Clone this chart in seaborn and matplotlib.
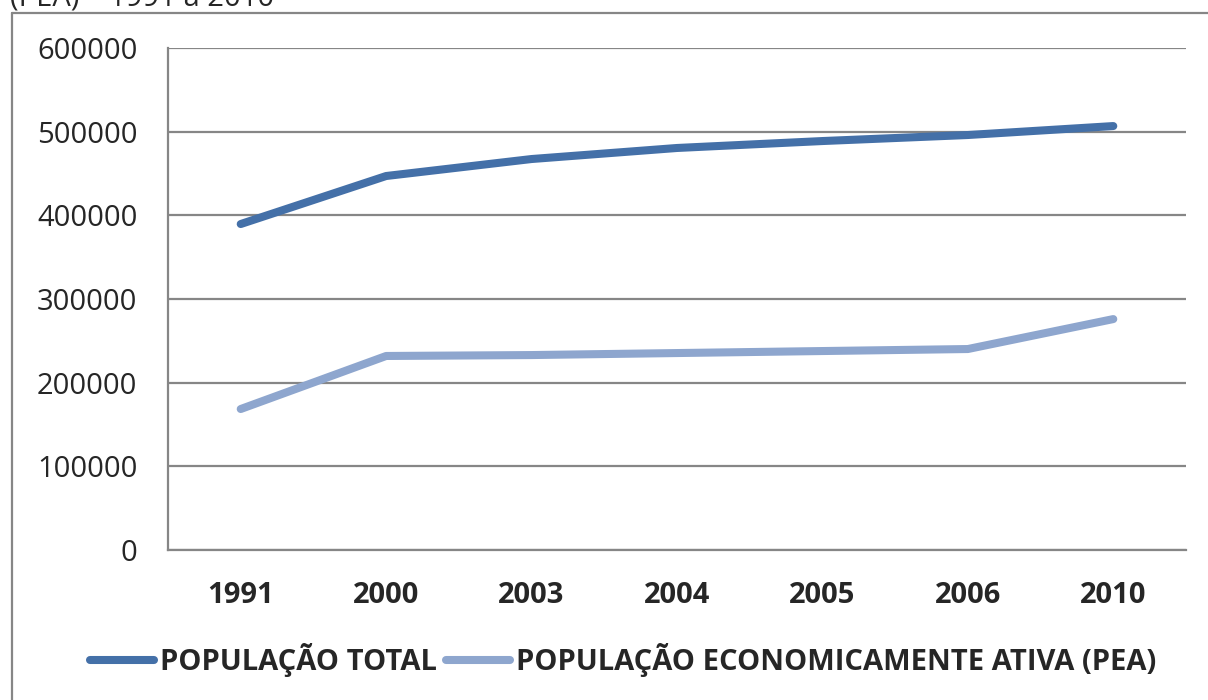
import numpy as np
import pandas as pd
from matplotlib import pyplot as plt
from matplotlib.lines import Line2D
from matplotlib.ticker import FixedLocator, FuncFormatter
import seaborn as sns

years = ["1991", "2000", "2003", "2004", "2005", "2006", "2010"]
pop_total = [389600, 447000, 467300, 480500, 488800, 496000, 506700]
pop_pea = [168500, 231900, 233000, 235400, 237800, 240200, 276000]
series_names = ["POPULAÇÃO TOTAL", "POPULAÇÃO ECONOMICAMENTE ATIVA (PEA)"]
y_ticks = [0, 100000, 200000, 300000, 400000, 500000, 600000]

colors = ["#4470A8", "#8EA6CE"]
grid_color = "#868686"

df = pd.DataFrame({
    "ano": years * 2,
    "valor": pop_total + pop_pea,
    "serie": [series_names[0]] * len(years) + [series_names[1]] * len(years),
})

sns.set_style("white")
plt.rcParams['font.family'] = ['Open Sans', 'DejaVu Sans']

fig = plt.figure(figsize=(12.08, 7.0), dpi=100)
ax = fig.add_axes([168 / 1208, 1 - 550 / 700, (1186 - 168) / 1208, (550 - 48) / 700])

sns.lineplot(data=df, x="ano", y="valor", hue="serie", palette=colors, sort=False,
             linewidth=5.8, ax=ax, legend=False, solid_capstyle='round')

ax.set_xlim(-0.5, len(years) - 0.5)
ax.set_ylim(0, 600000)
ax.set_yticks(y_ticks)
ax.yaxis.set_major_formatter(FuncFormatter(lambda v, p: f"{int(v)}"))
ax.grid(axis='y', color=grid_color, linewidth=1.6)
ax.set_axisbelow(True)
ax.set_xlabel("")
ax.set_ylabel("")

ax.set_xticks(range(len(years)))
ax.set_xticklabels(years, fontweight='bold', fontsize=21)
ax.xaxis.set_minor_locator(FixedLocator(np.arange(-0.5, len(years), 1.0)))
ax.tick_params(axis='x', which='major', length=0, pad=22)
ax.tick_params(axis='x', which='minor', length=8, width=1.6, color=grid_color, direction='out')
ax.tick_params(axis='y', which='major', length=8, width=1.6, color=grid_color, direction='out',
               labelsize=21, pad=14)

for side in ['top', 'right']:
    ax.spines[side].set_visible(False)
for side in ['left', 'bottom']:
    ax.spines[side].set_color(grid_color)
    ax.spines[side].set_linewidth(1.6)

handles = [Line2D([0], [0], color=c, linewidth=5.8, solid_capstyle='round') for c in colors]
fig.legend(handles, series_names, loc='center', bbox_to_anchor=(623 / 1208, 1 - 660 / 700), ncol=2,
           frameon=False, handlelength=2.2, handletextpad=0.2, columnspacing=0.3,
           prop={'weight': 'bold', 'size': 21})

# chart border and cut-off title from the source document
fig.add_artist(Line2D([12 / 1208, 12 / 1208], [0, 1 - 13 / 700], transform=fig.transFigure,
                      color=grid_color, linewidth=1.6))
fig.add_artist(Line2D([12 / 1208, 1], [1 - 13 / 700, 1 - 13 / 700], transform=fig.transFigure,
                      color=grid_color, linewidth=1.6))
fig.text(10 / 1208, 1 - 6 / 700, "(PEA) – 1991 a 2010", fontsize=21, va='baseline', ha='left')

fig.savefig("out.png", dpi=100)
